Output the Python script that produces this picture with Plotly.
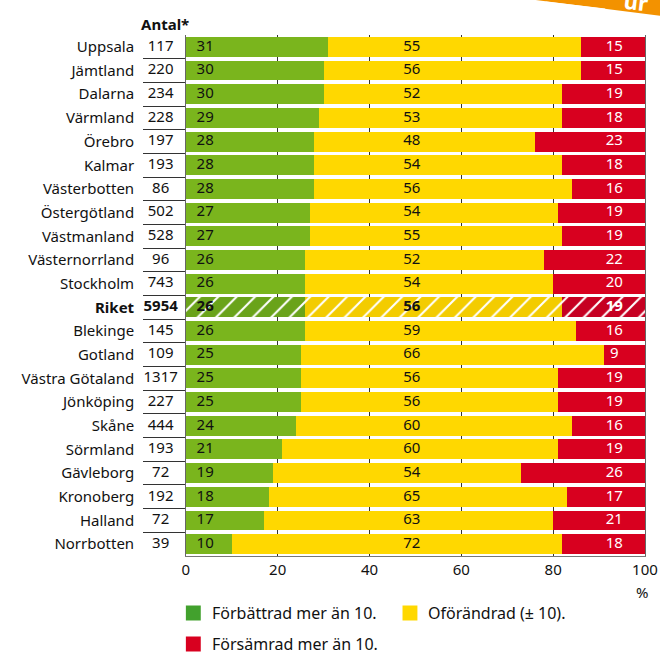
import plotly.graph_objects as go

regions = ["Uppsala", "Jämtland", "Dalarna", "Värmland", "Örebro", "Kalmar",
           "Västerbotten", "Östergötland", "Västmanland", "Västernorrland",
           "Stockholm", "Riket", "Blekinge", "Gotland", "Västra Götaland",
           "Jönköping", "Skåne", "Sörmland", "Gävleborg", "Kronoberg",
           "Halland", "Norrbotten"]
counts = [117, 220, 234, 228, 197, 193, 86, 502, 528, 96, 743, 5954,
          145, 109, 1317, 227, 444, 193, 72, 192, 72, 39]
improved = [31, 30, 30, 29, 28, 28, 28, 27, 27, 26, 26, 26,
            26, 25, 25, 25, 24, 21, 19, 18, 17, 10]
unchanged = [55, 56, 52, 53, 48, 54, 56, 54, 55, 52, 54, 56,
             59, 66, 56, 56, 60, 60, 54, 65, 63, 72]
worsened = [15, 15, 19, 18, 23, 18, 16, 19, 19, 22, 20, 19,
            16, 9, 19, 19, 16, 19, 26, 17, 21, 18]
legend_labels = ["Förbättrad mer än 10.", "Oförändrad (± 10).", "Försämrad mer än 10."]
x_ticks = [0, 20, 40, 60, 80, 100]
total_row = "Riket"

FONT = "Noto Sans"
GREEN, GREEN_DARK, GREEN_LEG = "#7ab51d", "#6aa31a", "#42a12d"
YELLOW, YELLOW_DARK = "#ffd800", "#f3cc00"
RED, RED_DARK = "#d8001f", "#c60022"
INK = "#111111"

W, H = 660, 654
ML, MR, MT, MB = 0, 15, 35, 98
PW, PH = W - ML - MR, H - MT - MB


def px(x):
    return (x - ML) / PW


def py(y):
    return (H - MB - y) / PH


def fmt(v, r):
    return f"<b>{v}</b>" if r == total_row else str(v)


n = len(regions)
cat_range = [n - 0.5, -0.5]
# last segment runs to 100 % (rounded shares do not always add up)
rest = [100 - g - u for g, u in zip(improved, unchanged)]

fig = go.Figure()

for vals, base_col, dark_col in [(improved, GREEN, GREEN_DARK),
                                 (unchanged, YELLOW, YELLOW_DARK),
                                 (rest, RED, RED_DARK)]:
    rows = [(r, v) for r, v in zip(regions, vals) if r != total_row]
    fig.add_trace(go.Bar(
        y=[r for r, _ in rows], x=[v for _, v in rows], orientation="h",
        showlegend=False, hoverinfo="skip",
        marker=dict(color=base_col, line_width=0),
    ))
    # national total is hatched
    tot = [v for r, v in zip(regions, vals) if r == total_row]
    fig.add_trace(go.Bar(
        y=[total_row], x=tot, orientation="h", showlegend=False, hoverinfo="skip",
        marker=dict(color=dark_col, line_width=0,
                    pattern=dict(shape="/", fillmode="replace", bgcolor=dark_col,
                                 fgcolor="white", fgopacity=1, size=13, solidity=0.16)),
    ))

# value labels sit in fixed columns
for col_x, vals, color in [(4.2, improved, INK), (49.2, unchanged, INK), (93.3, worsened, "white")]:
    fig.add_trace(go.Scatter(
        x=[col_x] * n, y=regions, mode="text", showlegend=False, hoverinfo="skip",
        text=[fmt(v, r) for v, r in zip(vals, regions)],
        textposition="middle center",
        textfont=dict(family=FONT, size=15, color=color),
    ))

# count column
fig.add_trace(go.Scatter(
    x=[0.42] * n, y=regions, mode="text", showlegend=False, hoverinfo="skip",
    text=[fmt(c, r) for c, r in zip(counts, regions)],
    textposition="middle center",
    textfont=dict(family=FONT, size=15, color=INK),
    xaxis="x2", yaxis="y2",
))

shapes = []
annotations = []

# legend
for (lx, ly), label, color in zip([(183, 613), (401, 613), (183, 644)],
                                  legend_labels, [GREEN_LEG, YELLOW, RED]):
    shapes.append(dict(type="rect", xref="paper", yref="paper",
                       x0=px(lx), x1=px(lx + 15), y0=py(ly + 7.5), y1=py(ly - 7.5),
                       fillcolor=color, line_width=0))
    annotations.append(dict(xref="paper", yref="paper", x=px(lx + 24), y=py(ly),
                            xanchor="left", yanchor="middle", showarrow=False,
                            text=label, font=dict(family=FONT, size=16, color=INK)))

annotations.append(dict(xref="paper", yref="paper", x=px(136), y=py(24),
                        xanchor="left", yanchor="middle", showarrow=False,
                        text="<b>Antal*</b>", font=dict(family=FONT, size=15, color=INK)))
annotations.append(dict(xref="paper", yref="paper", x=px(642), y=py(592),
                        xanchor="center", yanchor="middle", showarrow=False,
                        text="%", font=dict(family=FONT, size=15, color=INK)))

# orange banner cut off at the top right corner
shapes.append(dict(type="path", xref="paper", yref="paper",
                   path=f"M {px(535)},{py(-2)} L {px(535)},{py(0)} L {px(662)},{py(16)} L {px(662)},{py(-2)} Z",
                   fillcolor="#f39200", line_width=0))
shapes.append(dict(type="line", xref="paper", yref="paper",
                   x0=px(545), y0=py(2), x1=px(605), y1=py(9),
                   line=dict(color="white", width=1)))
annotations.append(dict(xref="paper", yref="paper", x=px(636), y=py(1),
                        xanchor="center", yanchor="middle", showarrow=False, textangle=7,
                        text="<b>ur</b>", font=dict(family=FONT, size=22, color="white")))

fig.update_layout(
    width=W, height=H,
    margin=dict(l=ML, r=MR, t=MT, b=MB),
    paper_bgcolor="white", plot_bgcolor="white",
    barmode="stack", bargap=0.16,
    font=dict(family=FONT, size=15, color=INK),
    showlegend=False,
    xaxis=dict(domain=[px(183), 1], range=[0, 100], tickvals=x_ticks,
               showgrid=True, gridcolor="#333333", gridwidth=1,
               showline=True, linecolor="#777777", linewidth=1,
               zeroline=False, ticks="", tickfont=dict(size=15, color=INK),
               anchor="y"),
    yaxis=dict(domain=[0, 1], anchor="x", categoryorder="array", categoryarray=regions,
               range=cat_range, autorange=False, showticklabels=False, showgrid=False,
               showline=True, mirror=True, linecolor="#666666", linewidth=1,
               zeroline=False),
    xaxis2=dict(domain=[px(140), px(182)], range=[0, 1], visible=False, anchor="y2"),
    yaxis2=dict(domain=[0, 1], anchor="x2", categoryorder="array", categoryarray=regions,
                range=cat_range, autorange=False, tickvals=regions,
                ticktext=[fmt(r, r) for r in regions],
                tickson="boundaries", showgrid=True, gridcolor="#333333", gridwidth=1,
                ticks="", ticklabelstandoff=8, showline=False, zeroline=False,
                tickfont=dict(size=15, color=INK), automargin=False),
    shapes=shapes,
    annotations=annotations,
)

fig.write_html("out.html", config={"displayModeBar": False},
               post_script="document.body.style.margin = '0';")
